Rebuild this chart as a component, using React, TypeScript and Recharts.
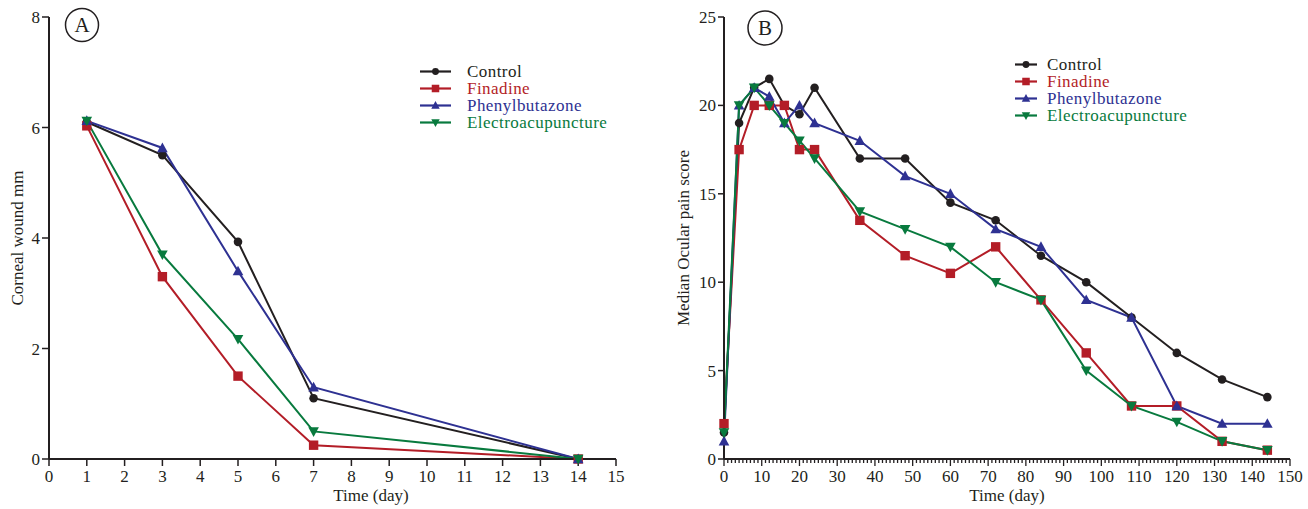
import { LineChart, Line, XAxis, YAxis, Legend } from "recharts";

// Panel A: corneal wound size (mm) per day
const daysA = [1, 3, 5, 7, 14];
const controlA = [6.1, 5.5, 3.93, 1.1, 0];
const finadineA = [6.03, 3.3, 1.5, 0.25, 0];
const phenylA = [6.12, 5.63, 3.4, 1.3, 0];
const electroA = [6.12, 3.7, 2.17, 0.5, 0];
const xTicksA = [0, 1, 2, 3, 4, 5, 6, 7, 8, 9, 10, 11, 12, 13, 14, 15];
const yTicksA = [0, 2, 4, 6, 8];

// Panel B: median ocular pain score
const timesB = [0, 4, 8, 12, 16, 20, 24, 36, 48, 60, 72, 84, 96, 108, 120, 132, 144];
const controlB = [1.5, 19, 21, 21.5, 20, 19.5, 21, 17, 17, 14.5, 13.5, 11.5, 10, 8, 6, 4.5, 3.5];
const finadineB = [2, 17.5, 20, 20, 20, 17.5, 17.5, 13.5, 11.5, 10.5, 12, 9, 6, 3, 3, 1, 0.5];
const phenylB = [1, 20, 21, 20.5, 19, 20, 19, 18, 16, 15, 13, 12, 9, 8, 3, 2, 2];
const electroB = [1.5, 20, 21, 20, 19, 18, 17, 14, 13, 12, 10, 9, 5, 3, 2.1, 1, 0.5];
const xTicksB = Array.from({ length: 151 }, (_, i) => i);
const yTicksB = [0, 5, 10, 15, 20, 25];

const dataA = daysA.map((d, i) => ({
  t: d,
  control: controlA[i],
  finadine: finadineA[i],
  phenyl: phenylA[i],
  electro: electroA[i],
}));

const dataB = timesB.map((d, i) => ({
  t: d,
  control: controlB[i],
  finadine: finadineB[i],
  phenyl: phenylB[i],
  electro: electroB[i],
}));

const FONT = "'Liberation Serif', 'DejaVu Serif', serif";
const INK = "#231f20";

const series = [
  { key: "control", name: "Control", color: "#231f20", shape: "circle" },
  { key: "finadine", name: "Finadine", color: "#b31d27", shape: "square" },
  { key: "phenyl", name: "Phenylbutazone", color: "#2e3192", shape: "up" },
  { key: "electro", name: "Electroacupuncture", color: "#087a3e", shape: "down" },
];

function Marker({ shape, color, cx, cy, s = 1 }: any) {
  if (shape === "circle") return <circle cx={cx} cy={cy} r={4.3 * s} fill={color} />;
  if (shape === "square") {
    const h = 4.7 * s;
    return <rect x={cx - h} y={cy - h} width={h * 2} height={h * 2} fill={color} />;
  }
  if (shape === "up") {
    const w = 5.3 * s;
    return <polygon points={`${cx - w},${cy + 4.2 * s} ${cx + w},${cy + 4.2 * s} ${cx},${cy - 5.5 * s}`} fill={color} />;
  }
  const w = 5.3 * s;
  return <polygon points={`${cx - w},${cy - 4.2 * s} ${cx + w},${cy - 4.2 * s} ${cx},${cy + 5.5 * s}`} fill={color} />;
}

const makeDot = (shape: string, color: string) => (props: any) => {
  const { cx, cy, index } = props;
  if (cx == null || cy == null) return <g key={index} />;
  return (
    <g key={index}>
      <Marker shape={shape} color={color} cx={cx} cy={cy} />
    </g>
  );
};

function LegendBox({ textGap, lineW, rowH, fontSize }: any) {
  return (
    <div style={{ fontFamily: FONT, fontSize, letterSpacing: 0.45 }}>
      {series.map((s) => (
        <div key={s.key} style={{ display: "flex", alignItems: "center", height: rowH }}>
          <svg width={lineW} height={rowH} style={{ display: "block" }}>
            <line x1={0} x2={lineW} y1={rowH / 2} y2={rowH / 2} stroke={s.color} strokeWidth={2.2} />
            <Marker shape={s.shape} color={s.color} cx={lineW / 2} cy={rowH / 2} s={0.8} />
          </svg>
          <span style={{ marginLeft: textGap, color: s.color, lineHeight: rowH + "px" }}>{s.name}</span>
        </div>
      ))}
    </div>
  );
}

function MinorTick(props: any) {
  const { x, y, payload } = props;
  const major = payload.value % 10 === 0;
  return (
    <g>
      <line x1={x} x2={x} y1={y} y2={y + (major ? 7 : 4)} stroke={INK} strokeWidth={1.3} />
      {major && (
        <text x={x} y={y + 23} textAnchor="middle" fill={INK} fontFamily={FONT} fontSize={17}>
          {payload.value}
        </text>
      )}
    </g>
  );
}

const tickStyle = { fill: INK, fontFamily: FONT, fontSize: 17 };
const axisLine = { stroke: INK, strokeWidth: 2 };
const tickLine = { stroke: INK, strokeWidth: 1.5 };

function YTitle({ x, y, text }: any) {
  return (
    <text
      x={x}
      y={y}
      transform={`rotate(-90, ${x}, ${y})`}
      textAnchor="middle"
      dominantBaseline="central"
      fill={INK}
      fontFamily={FONT}
      fontSize={17}
    >
      {text}
    </text>
  );
}

function XTitle({ x, y }: any) {
  return (
    <text x={x} y={y} textAnchor="middle" fill={INK} fontFamily={FONT} fontSize={17}>
      Time (day)
    </text>
  );
}

export default function App() {
  return (
    <div style={{ position: "absolute", left: 0, top: 0, width: 1308, height: 509, background: "#fff" }}>
      <div style={{ position: "absolute", left: 0, top: 0 }}>
        <LineChart width={650} height={509} data={dataA} margin={{ top: 17, right: 34, bottom: 0, left: 0 }}>
          <XAxis
            type="number"
            dataKey="t"
            domain={[0, 15]}
            ticks={xTicksA}
            interval={0}
            height={50}
            tick={tickStyle}
            tickSize={7}
            tickMargin={4}
            axisLine={axisLine}
            tickLine={tickLine}
            label={{ content: () => <XTitle x={371} y={501} /> }}
          />
          <YAxis
            type="number"
            domain={[0, 8]}
            ticks={yTicksA}
            width={49}
            tick={tickStyle}
            tickSize={7}
            tickMargin={2}
            axisLine={axisLine}
            tickLine={tickLine}
            label={{ content: () => <YTitle x={17} y={238} text="Corneal wound mm" /> }}
          />
          <Legend
            layout="vertical"
            align="center"
            verticalAlign="middle"
            wrapperStyle={{ position: "absolute", left: 420, top: 63, width: 260 }}
            content={() => <LegendBox textGap={16} lineW={31} rowH={17} fontSize={17} />}
          />
          {series.map((s) => (
            <Line
              key={s.key}
              type="linear"
              dataKey={s.key}
              name={s.name}
              stroke={s.color}
              strokeWidth={2}
              dot={makeDot(s.shape, s.color)}
              activeDot={false}
              isAnimationActive={false}
            />
          ))}
        </LineChart>
      </div>
      <div style={{ position: "absolute", left: 650, top: 0 }}>
        <LineChart width={658} height={509} data={dataB} margin={{ top: 17, right: 18, bottom: 0, left: 0 }}>
          <XAxis
            type="number"
            dataKey="t"
            domain={[0, 150]}
            ticks={xTicksB}
            interval={0}
            height={50}
            tick={<MinorTick />}
            tickSize={0}
            tickMargin={0}
            axisLine={axisLine}
            tickLine={false}
            label={{ content: () => <XTitle x={357} y={501} /> }}
          />
          <YAxis
            type="number"
            domain={[0, 25]}
            ticks={yTicksB}
            width={74}
            tick={tickStyle}
            tickSize={6}
            tickMargin={2}
            axisLine={axisLine}
            tickLine={tickLine}
            label={{ content: () => <YTitle x={33} y={238} text="Median Ocular pain score" /> }}
          />
          <Legend
            layout="vertical"
            align="center"
            verticalAlign="middle"
            wrapperStyle={{ position: "absolute", left: 365, top: 56, width: 260 }}
            content={() => <LegendBox textGap={10} lineW={22} rowH={17} fontSize={17} />}
          />
          {series.map((s) => (
            <Line
              key={s.key}
              type="linear"
              dataKey={s.key}
              name={s.name}
              stroke={s.color}
              strokeWidth={2}
              dot={makeDot(s.shape, s.color)}
              activeDot={false}
              isAnimationActive={false}
            />
          ))}
        </LineChart>
      </div>
      <svg
        width={1308}
        height={509}
        style={{ position: "absolute", left: 0, top: 0, pointerEvents: "none" }}
      >
        <circle cx={82} cy={25} r={16.5} fill="none" stroke={INK} strokeWidth={1.5} />
        <text x={82} y={32} textAnchor="middle" fill={INK} fontFamily={FONT} fontSize={21}>
          A
        </text>
        <circle cx={765} cy={28} r={17} fill="none" stroke={INK} strokeWidth={1.5} />
        <text x={765} y={35} textAnchor="middle" fill={INK} fontFamily={FONT} fontSize={21}>
          B
        </text>
      </svg>
    </div>
  );
}
